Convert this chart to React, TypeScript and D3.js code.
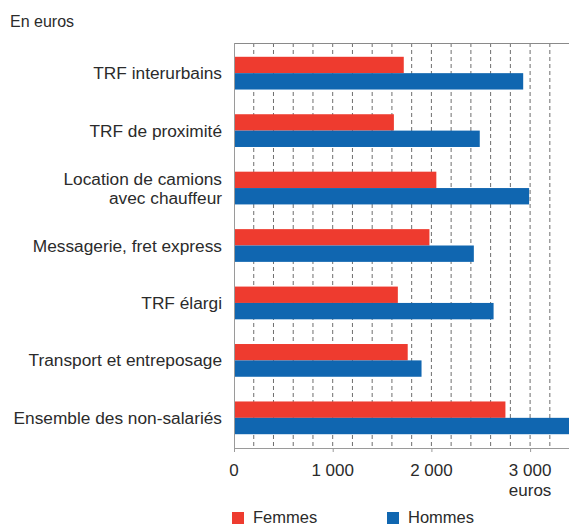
import React, { useRef, useEffect } from "react";
import * as d3 from "d3";

const categories = [
  "TRF interurbains",
  "TRF de proximité",
  "Location de camions|avec chauffeur",
  "Messagerie, fret express",
  "TRF élargi",
  "Transport et entreposage",
  "Ensemble des non-salariés",
];
const femmes = [1720, 1620, 2050, 1980, 1660, 1760, 2750];
const hommes = [2930, 2490, 2990, 2430, 2630, 1900, 3460];
const seriesNames = ["Femmes", "Hommes"];
const seriesColors = ["#EE3B2F", "#1066B0"];
const tickValues = [0, 1000, 2000, 3000];
const gridValues = d3.range(200, 3400, 200);

const W = 569;
const H = 527;

const App = () => {
  const svgRef = useRef<SVGSVGElement>(null);

  useEffect(() => {
    if (!svgRef.current) return;
    const svg = d3.select(svgRef.current);
    svg.selectAll("*").remove();

    const margin = { top: 43, left: 234, bottom: 448 };
    const font = "Liberation Sans, Arial, Helvetica, sans-serif";
    const textColor = "#2b2b2b";

    const x = d3.scaleLinear().domain([0, 3400]).range([margin.left, margin.left + 3400 * 0.0987]);
    const y = d3
      .scaleBand()
      .domain(categories)
      .range([margin.top, margin.bottom])
      .paddingInner(0.43)
      .paddingOuter(0.24);
    const y1 = d3.scaleBand().domain(seriesNames).range([0, y.bandwidth()]);

    // titre
    svg
      .append("text")
      .attr("x", 10)
      .attr("y", 27)
      .style("font-family", font)
      .style("font-size", "16px")
      .style("fill", textColor)
      .text("En euros");

    // grille
    svg
      .append("g")
      .selectAll("line")
      .data(gridValues)
      .enter()
      .append("line")
      .attr("x1", (d) => x(d))
      .attr("x2", (d) => x(d))
      .attr("y1", margin.top)
      .attr("y2", margin.bottom)
      .attr("stroke", "#6e6e6e")
      .attr("stroke-width", 1)
      .attr("stroke-dasharray", "4 3");

    svg
      .append("line")
      .attr("x1", margin.left)
      .attr("x2", W)
      .attr("y1", margin.top + 0.5)
      .attr("y2", margin.top + 0.5)
      .attr("stroke", "#8a8a8a");

    // barres
    const series = [femmes, hommes];
    series.forEach((vals, si) => {
      svg
        .append("g")
        .selectAll("rect")
        .data(vals)
        .enter()
        .append("rect")
        .attr("x", x(0))
        .attr("y", (_, i) => (y(categories[i]) ?? 0) + (y1(seriesNames[si]) ?? 0))
        .attr("width", (d) => x(d) - x(0))
        .attr("height", y1.bandwidth())
        .attr("fill", seriesColors[si]);
    });

    // axes
    svg
      .append("line")
      .attr("x1", margin.left)
      .attr("x2", W)
      .attr("y1", margin.bottom + 0.5)
      .attr("y2", margin.bottom + 0.5)
      .attr("stroke", "#9a9a9a");
    svg
      .append("line")
      .attr("x1", margin.left + 0.5)
      .attr("x2", margin.left + 0.5)
      .attr("y1", margin.top)
      .attr("y2", margin.bottom + 4)
      .attr("stroke", "#9a9a9a");

    const ticks = svg.append("g");
    ticks
      .selectAll("line")
      .data(tickValues)
      .enter()
      .append("line")
      .attr("x1", (d) => x(d) + 0.5)
      .attr("x2", (d) => x(d) + 0.5)
      .attr("y1", margin.bottom)
      .attr("y2", margin.bottom + 4)
      .attr("stroke", "#9a9a9a");
    ticks
      .selectAll("text")
      .data(tickValues)
      .enter()
      .append("text")
      .attr("x", (d) => x(d))
      .attr("y", 476)
      .attr("text-anchor", "middle")
      .style("font-family", font)
      .style("font-size", "17px")
      .style("fill", textColor)
      .text((d) => d3.format(",")(d).replace(",", " "));

    svg
      .append("text")
      .attr("x", x(3000))
      .attr("y", 496)
      .attr("text-anchor", "middle")
      .style("font-family", font)
      .style("font-size", "17px")
      .style("fill", textColor)
      .text("euros");

    // libellés
    categories.forEach((c) => {
      const lines = c.split("|");
      const cy = (y(c) ?? 0) + y.bandwidth() / 2;
      const lh = 19;
      lines.forEach((l, li) => {
        svg
          .append("text")
          .attr("x", 222)
          .attr("y", cy + 6 + (li - (lines.length - 1) / 2) * lh)
          .attr("text-anchor", "end")
          .style("font-family", font)
          .style("font-size", "17.3px")
          .style("fill", textColor)
          .text(l);
      });
    });

    // légende
    const legendX = [232, 387];
    seriesNames.forEach((s, i) => {
      svg
        .append("rect")
        .attr("x", legendX[i])
        .attr("y", 512)
        .attr("width", 12)
        .attr("height", 12)
        .attr("fill", seriesColors[i]);
      svg
        .append("text")
        .attr("x", legendX[i] + 21)
        .attr("y", 523)
        .style("font-family", font)
        .style("font-size", "16.5px")
        .style("fill", textColor)
        .text(s);
    });
  }, []);

  return (
    <svg
      ref={svgRef}
      width={W}
      height={H}
      style={{ position: "absolute", left: 0, top: 0, background: "#fff" }}
    />
  );
};

export default App;
